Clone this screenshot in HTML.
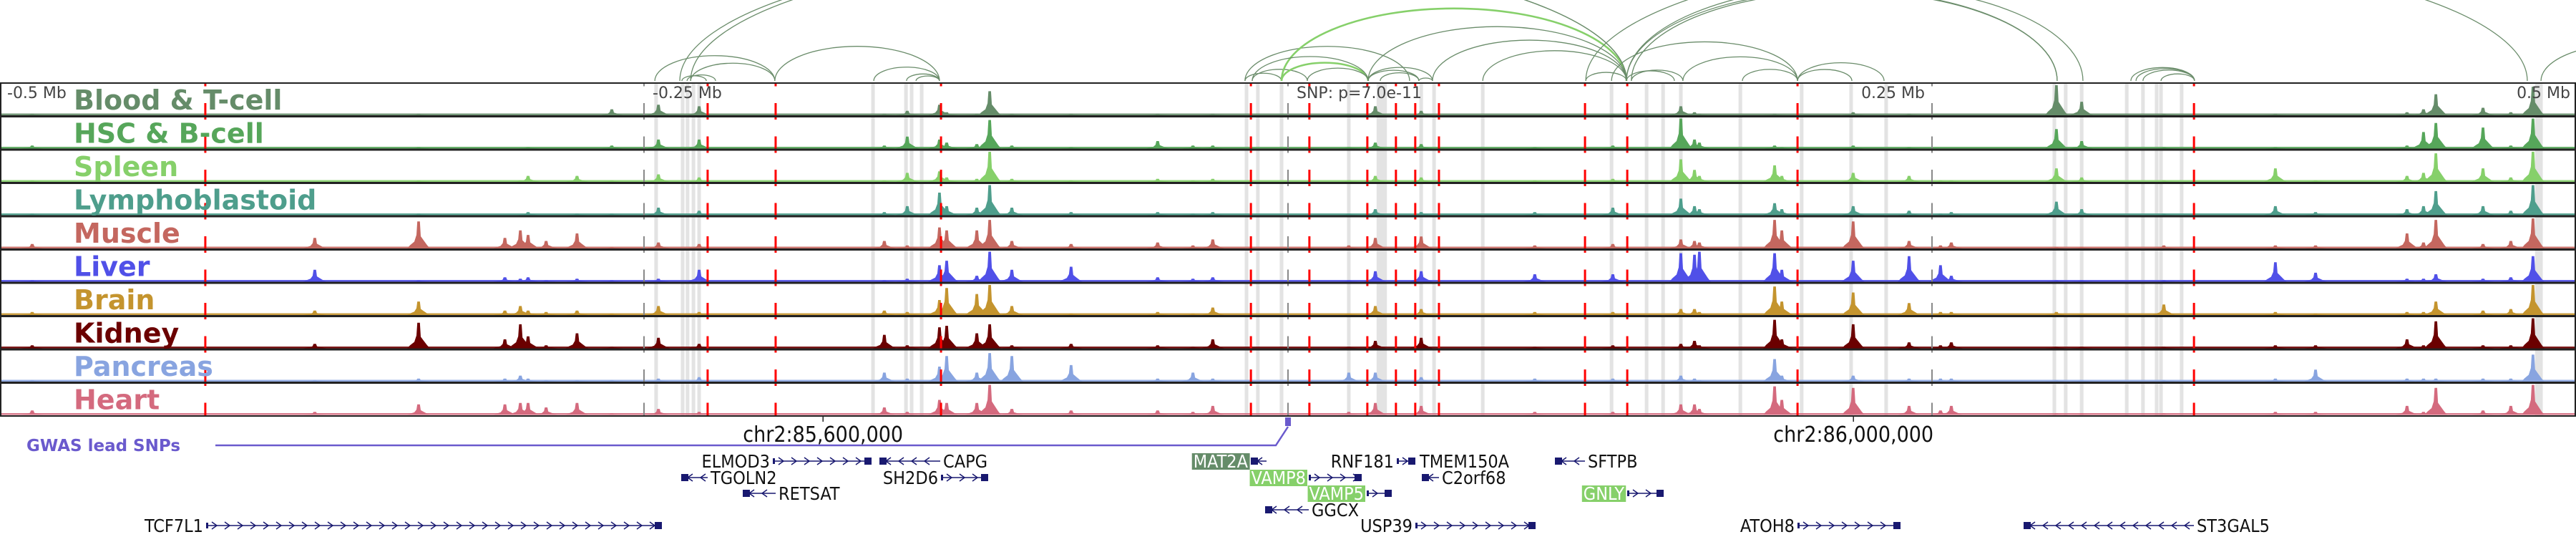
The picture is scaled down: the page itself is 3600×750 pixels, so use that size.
<!DOCTYPE html>
<html><head><meta charset="utf-8">
<style>
html,body{margin:0;padding:0;background:#fff;}
svg{display:block;}
.cond{font-family:"DejaVu Sans Condensed","DejaVu Sans","Liberation Sans",sans-serif;font-stretch:condensed;}
</style></head>
<body>
<svg id="chart" width="3600" height="750" viewBox="0 0 3600 750" xmlns="http://www.w3.org/2000/svg">
<g id="arcs"></g>
<g id="highlights"></g>
<g id="tracks"></g>
<g id="vlines"></g>
<g id="frame"></g>
<g id="labels"></g>
<g id="axis"></g>
<g id="genes"></g>
</svg>
<script>
// ---- data ----
const tissues = ["Blood & T-cell","HSC & B-cell","Spleen","Lymphoblastoid","Muscle","Liver","Brain","Kidney","Pancreas","Heart"];
const tissueColors = ["#658c69","#56a65a","#86d06a","#4e9e8c","#c4675f","#5050e8","#c4942e","#6b0000","#88a4e0","#d46a7e"];
const peakPos = [-487.5,-377.8,-337.5,-304,-298,-295,-288,-276,-262.5,-244.4,-228.6,-156.7,-147.8,-135.3,-132.5,-120.8,-115.8,-107.2,-84.2,-50.6,-36.9,-29.2,23.6,33.9,51.7,95.8,126.1,152.5,157.8,159.7,188.9,191.7,219.4,241.1,253.3,257.5,298.3,308.1,340,383.3,398.9,434.4,440.8,445.6,463.9,474.7,483.3];
const sigBlood = [0.05,0,0.05,0,0,0,0,0,0.2,0.35,0.3,0.05,0.15,0.35,0.1,0.05,0.8,0.05,0.05,0.05,0,0.05,0.05,0.3,0.15,0,0.05,0.3,0.1,0.05,0.05,0,0.1,0.05,0,0,1.0,0.45,0.05,0.05,0,0.1,0.2,0.7,0.25,0.1,0.95];
const sigHSC = [0.1,0,0.05,0,0,0.05,0,0,0.1,0.3,0.3,0.1,0.4,0.3,0.2,0.15,0.95,0.1,0.05,0.25,0.1,0.1,0.05,0.2,0.15,0.05,0.1,1.0,0.3,0.2,0.1,0.05,0.1,0.05,0,0,0.65,0.25,0.05,0.05,0,0.1,0.55,0.85,0.7,0.1,1.0];
const sigSpleen = [0.05,0,0.05,0,0.05,0.2,0,0.2,0.05,0.25,0.15,0.05,0.3,0.35,0.15,0.1,1.0,0.1,0.05,0.1,0.05,0.1,0.05,0.2,0.15,0.05,0.1,0.75,0.4,0.2,0.55,0.2,0.3,0.2,0.05,0.05,0.45,0.15,0.05,0.45,0.05,0.2,0.3,0.95,0.45,0.15,1.0];
const sigLympho = [0.05,0,0.05,0,0,0.1,0,0.05,0.05,0.25,0.15,0.1,0.3,0.75,0.3,0.25,1.0,0.25,0.1,0.1,0.05,0.1,0.05,0.2,0.1,0.1,0.25,0.55,0.3,0.2,0.4,0.2,0.3,0.15,0.05,0.1,0.45,0.2,0.05,0.3,0.1,0.2,0.3,0.8,0.3,0.15,1.0];
const sigMuscle = [0.15,0.35,0.9,0.35,0.6,0.45,0.25,0.5,0.05,0.2,0.15,0.25,0.1,0.7,0.6,0.6,0.95,0.25,0.15,0.2,0.1,0.3,0.1,0.35,0.4,0.1,0.15,0.3,0.25,0.2,0.95,0.6,0.9,0.25,0.1,0.2,0.05,0.05,0.1,0.1,0.1,0.5,0.2,0.95,0.15,0.25,1.0];
const sigLiver = [0.05,0.4,0.05,0.15,0.1,0.15,0.05,0.1,0.05,0.1,0.4,0.05,0.1,0.55,0.7,0.2,1.0,0.4,0.5,0.15,0.1,0.15,0.05,0.35,0.35,0.25,0.25,0.95,0.9,1.0,0.95,0.4,0.7,0.85,0.55,0.2,0.05,0.05,0.05,0.65,0.3,0.1,0.1,0.25,0.1,0.15,0.85];
const sigBrain = [0.1,0.15,0.45,0.15,0.3,0.15,0.1,0.15,0.05,0.3,0.1,0.15,0.1,0.5,0.9,0.7,1.0,0.3,0.05,0.1,0.05,0.25,0.05,0.3,0.2,0.1,0.1,0.2,0.2,0.1,0.95,0.45,0.75,0.4,0.1,0.1,0.1,0.05,0.35,0.1,0.05,0.1,0.1,0.45,0.15,0.2,1.0];
const sigKidney = [0.1,0.15,0.85,0.3,0.8,0.4,0.1,0.5,0.05,0.35,0.15,0.45,0.1,0.7,0.75,0.5,0.8,0.1,0.15,0.1,0.05,0.3,0.05,0.25,0.35,0.05,0.1,0.15,0.25,0.1,0.95,0.3,0.8,0.2,0.1,0.2,0.05,0.05,0.05,0.1,0.1,0.3,0.1,0.9,0.1,0.1,1.0];
const sigPancreas = [0.05,0.05,0.1,0.1,0.2,0.1,0.05,0.05,0.05,0.1,0.15,0.3,0.1,0.5,0.85,0.3,0.95,0.85,0.55,0.1,0.3,0.1,0.3,0.3,0.15,0.1,0.1,0.2,0.1,0.05,0.75,0.2,0.2,0.1,0.1,0.1,0.05,0.05,0.05,0.1,0.4,0.1,0.1,0.1,0.1,0.1,0.9];
const sigHeart = [0.15,0.1,0.35,0.35,0.4,0.4,0.25,0.4,0.05,0.2,0.1,0.25,0.1,0.5,0.4,0.4,1.0,0.2,0.15,0.15,0.1,0.3,0.1,0.4,0.3,0.1,0.1,0.35,0.35,0.2,0.95,0.5,0.9,0.3,0.15,0.3,0.05,0.05,0.05,0.1,0.1,0.3,0.1,0.9,0.15,0.3,1.0];
const arcStart = [-245.8,-235.3,-233.3,-231.9,-199.2,-160.8,-148.1,-144.4,-16.7,-16.7,-13.9,-2.5,-2.5,-13.9,7.5,31.1,56.1,75.6,31.1,35.8,31.1,50.8,115.6,131.4,133.3,125.6,153.3,176.4,197.8,197.8,327.2,329.2,331.9,338.9,486.4,-236.1,-231.9,131.4,131.4,133.3,115.6];
const arcEnd   = [-199.2,-225.8,-222.2,-199.2,-135.3,-135.3,-135.3,-135.3,47.2,-2.5,7.5,31.1,131.4,31.1,31.1,131.4,131.4,131.4,50.8,50.8,56.1,56.1,131.4,150,153.3,197.8,197.8,197.8,231.4,218.9,351.9,351.9,351.9,351.9,555.6,131.4,131.4,298.6,308.6,298.6,481.1];
const arcGreen = [0,0,0,0,0,0,0,0,0,0,0,1,1,0,0,0,0,0,0,0,0,0,0,0,0,0,0,0,0,0,0,0,0,0,0,0,0,0,0,0,0];
const highlightPos = [-245.3,-235,-233.1,-230.8,-228.6,-161.1,-148.3,-146.1,-142.2,-16.1,-11.7,-2.5,23.6,36.4,51.7,56.7,75.6,125.6,139.2,145.6,152.5,175.6,199.4,218.6,232.2,297.5,301.9,308.1,325.6,331.9,337.2,338.9,346.9,485.6];
const highlightWidthKb = [1.4,1.4,1.4,1.4,1.4,1.4,1.4,1.4,1.4,1.4,1.4,1.4,1.4,4,1.4,1.4,1.4,1.4,1.4,1.4,1.4,1.4,1.4,1.4,1.4,1.4,1.4,1.4,1.4,1.4,1.4,1.4,1.4,3];
const snpLines = [-420.3,-225.3,-198.9,-134.7,-14.4,8.3,30.8,41.9,49.4,58.6,115.3,131.7,197.8,351.7];
const tickKb = [-500,-250,0,250,500];
const tickLabels = ["-0.5 Mb","-0.25 Mb","SNP: p=7.0e-11","0.25 Mb","0.5 Mb"];
const coordKb = [-180.5,219.5];
const coordLabels = ["chr2:85,600,000","chr2:86,000,000"];

const signals = [sigBlood,sigHSC,sigSpleen,sigLympho,sigMuscle,sigLiver,sigBrain,sigKidney,sigPancreas,sigHeart];
const NS = "http://www.w3.org/2000/svg";
const TOP = 116, TH = 46.5, NT = 10, BOT = TOP + TH*NT;
function xs(kb){ return 1800 + kb*3.6; }
function mk(tag, attrs, parent){
  const e = document.createElementNS(NS, tag);
  for (const k in attrs) e.setAttribute(k, attrs[k]);
  parent.appendChild(e); return e;
}

// arcs
const gArcs = document.getElementById('arcs');
for (let i=0;i<arcStart.length;i++){
  const x1 = xs(arcStart[i]), x2 = xs(arcEnd[i]);
  const a = (x2-x1)/2, h = Math.min(0.42*a, 110+0.11*a);
  const base = 113;
  const p = mk('path',{d:`M${x1},${base} A${a},${h} 0 0 1 ${x2},${base}`, fill:'none',
    stroke: arcGreen[i] ? '#86d06a' : '#6a8c6a', 'stroke-width': arcGreen[i] ? 2.6 : 1.3}, gArcs);
  
  
}

// highlights
const gH = document.getElementById('highlights');
for (let i=0;i<highlightPos.length;i++){
  const w = highlightWidthKb[i]*3.6;
  const r = mk('rect',{x:xs(highlightPos[i])-w/2, y:TOP, width:w, height:BOT-TOP, fill:'#e3e3e3'}, gH);
  
  
}

// tracks
const gT = document.getElementById('tracks');
for (let t=0;t<NT;t++){
  const base = TOP + TH*(t+1) - 1.5;
  const g = mk('g',{fill:tissueColors[t]}, gT);
  
  
  mk('rect',{x:0,y:base-2.5,width:3600,height:2.5,opacity:0.9}, g);
  const vals = signals[t];
  for (let i=0;i<peakPos.length;i++){
    const v = vals[i]; if (!v) continue;
    const x = xs(peakPos[i]), h = v*42;
    const p = mk('polygon',{points:`${x-16},${base} ${x-12},${base-h*0.12} ${x-6},${base-h*0.25} ${x-3},${base-h*0.5} ${x-1.8},${base-h} ${x+1.8},${base-h} ${x+3},${base-h*0.45} ${x+7},${base-h*0.3} ${x+12},${base-h*0.12} ${x+16},${base}`}, g);
    
    
  }
}

// vertical lines
const gV = document.getElementById('vlines');
for (let i=0;i<tickKb.length;i++){
  if (Math.abs(tickKb[i])===500) continue;
  const l = mk('line',{x1:xs(tickKb[i]),x2:xs(tickKb[i]),y1:TOP,y2:BOT,stroke:'#888','stroke-width':2,'stroke-dasharray':'23 23.5','stroke-dashoffset':'-28'}, gV);
  
  
}
for (let i=0;i<snpLines.length;i++){
  const l = mk('line',{x1:xs(snpLines[i]),x2:xs(snpLines[i]),y1:TOP,y2:BOT,stroke:'#ff0000','stroke-width':3,'stroke-dasharray':'23 23.5','stroke-dashoffset':'-28'}, gV);
  
  
}

// frame
const gF = document.getElementById('frame');
mk('rect',{x:1,y:TOP,width:3598,height:BOT-TOP,fill:'none',stroke:'#222','stroke-width':2}, gF);
for (let t=1;t<NT;t++){
  mk('line',{x1:0,x2:3600,y1:TOP+TH*t,y2:TOP+TH*t,stroke:'#222','stroke-width':3}, gF);
}

// labels
const gL = document.getElementById('labels');
for (let t=0;t<NT;t++){
  const tx = mk('text',{x:103,y:TOP+TH*t+37,fill:tissueColors[t],'font-family':'"DejaVu Sans","Liberation Sans",sans-serif','font-weight':'bold','font-size':38}, gL);
  tx.textContent = tissues[t];
  
  
}

// axis labels
const gA = document.getElementById('axis');
for (let i=0;i<tickKb.length;i++){
  let x = xs(tickKb[i]), anchor = 'start';
  if (tickKb[i]===-500) x = 10;
  else if (tickKb[i]===500){ x = 3592; anchor='end'; }
  else if (tickKb[i]>0){ x = x-10; anchor='end'; }
  else x = x+12;
  const tx = mk('text',{x:x,y:137,'text-anchor':anchor,fill:'#444','font-family':'"DejaVu Sans","Liberation Sans",sans-serif','font-size':22}, gA);
  tx.textContent = tickLabels[i];
  
  
}
for (let i=0;i<coordKb.length;i++){
  const x = xs(coordKb[i]);
  mk('line',{x1:x,x2:x,y1:BOT,y2:BOT+8,stroke:'#222','stroke-width':1.5}, gA);
  const tx = mk('text',{x:x,y:617,'text-anchor':'middle',fill:'#111','class':'cond','font-size':30}, gA);
  tx.textContent = coordLabels[i];
  
  
}
// GWAS
const gw = mk('text',{x:37,y:630,fill:'#6a5acd','font-family':'"DejaVu Sans","Liberation Sans",sans-serif','font-weight':'bold','font-size':23}, gA);
gw.textContent = 'GWAS lead SNPs';


mk('polyline',{points:'301,622 1783,622 1800,596',fill:'none',stroke:'#6a5acd','stroke-width':2.5}, gA);
const snpm = mk('rect',{x:1796,y:583,width:8,height:12,fill:'#6a5acd'}, gA);



// genes
const gG = document.getElementById('genes');
const rowY = [644,667,689,712,734];
// [name, row, geneX1, geneX2, dir, labelSide, highlightColor]
const geneList = [
 ["TCF7L1",4,288,925,1,"L",null],
 ["ELMOD3",0,1080,1218,1,"L",null],
 ["TGOLN2",1,952,989,-1,"R",null],
 ["RETSAT",2,1038,1084,-1,"R",null],
 ["CAPG",0,1229,1314,-1,"R",null],
 ["SH2D6",1,1315,1381,1,"L",null],
 ["MAT2A",0,1748,1770,-1,"L","#658c69"],
 ["VAMP8",1,1829,1903,1,"L","#86d06a"],
 ["VAMP5",2,1910,1945,1,"L","#86d06a"],
 ["GGCX",3,1768,1829,-1,"R",null],
 ["RNF181",0,1952,1978,1,"L",null],
 ["TMEM150A",0,1978,1980,-1,"R",null],
 ["C2orf68",1,1987,2011,-1,"R",null],
 ["USP39",4,1978,2146,1,"L",null],
 ["SFTPB",0,2173,2215,-1,"R",null],
 ["GNLY",2,2274,2325,1,"L","#86d06a"],
 ["ATOH8",4,2512,2656,1,"L",null],
 ["ST3GAL5",4,2828,3066,-1,"R",null]
];
for (const g of geneList){
  const [name,row,x1,x2,dir,side,hl] = g;
  const y = rowY[row];
  const grp = mk('g',{}, gG);
  
  
  if (x2-x1>4){
    mk('line',{x1:x1,x2:x2,y1:y,y2:y,stroke:'#191970','stroke-width':1.6}, grp);
    for (let x=x1+12; x<x2-6; x+=18){
      const d = dir>0 ? `M${x-4},${y-5} L${x+3},${y} L${x-4},${y+5}` : `M${x+4},${y-5} L${x-3},${y} L${x+4},${y+5}`;
      mk('path',{d:d,fill:'none',stroke:'#191970','stroke-width':1.5}, grp);
    }
    mk('rect',{x:x1,y:y-4,width:3,height:8,fill:'#191970'}, grp);
    const bx = dir>0 ? x2-10 : x1;
    mk('rect',{x:bx,y:y-5,width:10,height:10,fill:'#191970'}, grp);
  }
  const fs = 25;
  let tx;
  if (side==="L"){
    tx = mk('text',{x:x1-4,y:y+9,'text-anchor':'end','class':'cond','font-size':fs,fill:hl?'#fff':'#111'}, grp);
  } else {
    tx = mk('text',{x:x2+4,y:y+9,'text-anchor':'start','class':'cond','font-size':fs,fill:'#111'}, grp);
  }
  tx.textContent = name;
  if (hl){
    const bb = tx.getBBox();
    const r = document.createElementNS(NS,'rect');
    r.setAttribute('x',bb.x-2); r.setAttribute('y',y-11); r.setAttribute('width',bb.width+4); r.setAttribute('height',23); r.setAttribute('fill',hl);
    grp.insertBefore(r, tx);
  }
}
</script>
</body></html>
